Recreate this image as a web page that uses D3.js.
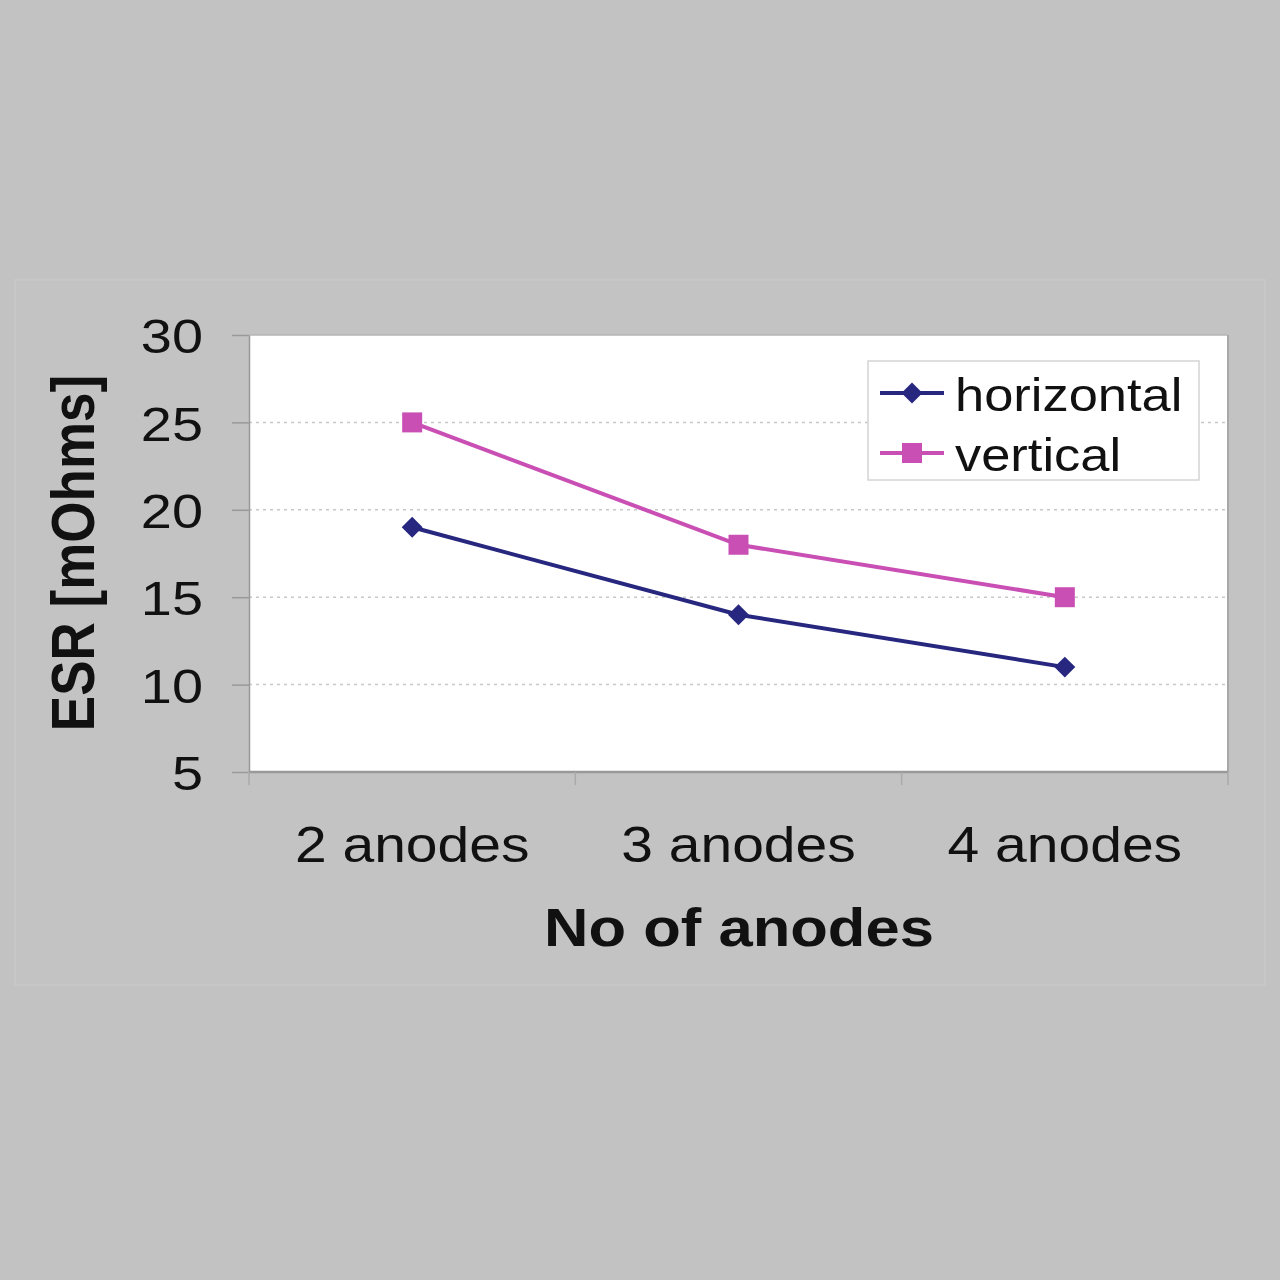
<!DOCTYPE html>
<html>
<head>
<meta charset="utf-8">
<script src="https://cdn.jsdelivr.net/npm/d3@7"></script>
<style>
  body { margin: 0; background: #c3c2c3; }
  svg text { font-family: "Liberation Sans", Arial, sans-serif; fill: #111; }
</style>
</head>
<body>
<div id="chart"></div>
<script>
// data
const categories = ["2 anodes", "3 anodes", "4 anodes"];
const horizontal = [19, 14, 11];
const vertical = [25, 18, 15];
const yTicks = [5, 10, 15, 20, 25, 30];
const seriesNames = ["horizontal", "vertical"];

const W = 1280, H = 1280;
const plot = { left: 249, right: 1228, top: 335, bottom: 772 };
const sx = 1.14; // the source picture is stretched sideways a bit

const svg = d3.select("#chart").append("svg")
  .attr("width", W).attr("height", H);

// background panel
svg.append("rect").attr("width", W).attr("height", H).attr("fill", "#c3c2c3");
svg.append("rect")
  .attr("x", 15).attr("y", 280).attr("width", 1250).attr("height", 705)
  .attr("fill", "#c4c3c4").attr("stroke", "#c8c7c8").attr("stroke-width", 2);

const x = d3.scaleBand().domain(categories).range([plot.left, plot.right]).padding(0);
const y = d3.scaleLinear().domain([5, 30]).range([plot.bottom, plot.top]);

// plot area
svg.append("rect")
  .attr("x", plot.left).attr("y", plot.top)
  .attr("width", plot.right - plot.left).attr("height", plot.bottom - plot.top)
  .attr("fill", "#fff");

// gridlines
svg.append("g").selectAll("line")
  .data(yTicks.filter(d => d > 5 && d < 30))
  .enter().append("line")
  .attr("x1", plot.left).attr("x2", plot.right)
  .attr("y1", d => y(d)).attr("y2", d => y(d))
  .attr("stroke", "#c8c8c8").attr("stroke-width", 1.5)
  .attr("stroke-dasharray", "3,4");

// border
svg.append("line").attr("x1", plot.left).attr("x2", plot.right)
  .attr("y1", plot.top).attr("y2", plot.top).attr("stroke", "#b4b4b4").attr("stroke-width", 1.5);
svg.append("line").attr("x1", plot.right).attr("x2", plot.right)
  .attr("y1", plot.top).attr("y2", plot.bottom).attr("stroke", "#a8a8a8").attr("stroke-width", 2);

// y axis
const yAxis = d3.axisLeft(y).tickValues(yTicks).tickSize(17).tickSizeOuter(0);
const gy = svg.append("g").attr("transform", "translate(" + plot.left + ",0)").call(yAxis);
gy.select(".domain").attr("stroke", "#999").attr("stroke-width", 1.5);
gy.selectAll(".tick line").attr("stroke", "#999").attr("stroke-width", 1.5);
gy.selectAll(".tick text")
  .attr("x", -46 / sx).attr("dy", "0.36em")
  .attr("transform", "scale(" + sx + ",1)")
  .style("font-size", "49px").attr("fill", "#111");

// x axis
const gx = svg.append("g").attr("transform", "translate(0," + plot.bottom + ")");
gx.append("line").attr("x1", plot.left).attr("x2", plot.right)
  .attr("stroke", "#999").attr("stroke-width", 2.5);
gx.selectAll(".xt")
  .data(categories.map(c => x(c)).concat([plot.right]))
  .enter().append("line")
  .attr("class", "xt")
  .attr("x1", d => d).attr("x2", d => d)
  .attr("y1", 0).attr("y2", 13)
  .attr("stroke", "#aaa").attr("stroke-width", 1.5);
gx.selectAll(".xl")
  .data(categories)
  .enter().append("text")
  .attr("class", "xl")
  .attr("transform", d => "translate(" + (x(d) + x.bandwidth() / 2) + ",90) scale(" + sx + ",1)")
  .attr("text-anchor", "middle")
  .style("font-size", "50px")
  .text(d => d);

// axis titles
svg.append("text")
  .attr("transform", "translate(739,946) scale(" + sx + ",1)")
  .attr("text-anchor", "middle")
  .style("font-size", "54px").style("font-weight", "bold")
  .text("No of anodes");
svg.append("text")
  .attr("transform", "translate(94,553) rotate(-90) scale(1," + sx + ")")
  .attr("text-anchor", "middle")
  .style("font-size", "53px").style("font-weight", "bold")
  .text("ESR [mOhms]");

// series
const colors = { horizontal: "#27277f", vertical: "#c94fb4" };
const series = [
  { name: "horizontal", values: horizontal },
  { name: "vertical", values: vertical }
];
const line = d3.line()
  .x((d, i) => x(categories[i]) + x.bandwidth() / 2)
  .y(d => y(d));
const diamond = d3.symbol().type(d3.symbolDiamond2).size(280);
const square = d3.symbol().type(d3.symbolSquare).size(400);

series.forEach(s => {
  svg.append("path").datum(s.values)
    .attr("d", line).attr("fill", "none")
    .attr("stroke", colors[s.name]).attr("stroke-width", 4);
  svg.selectAll(".m-" + s.name)
    .data(s.values).enter().append("path")
    .attr("class", "m-" + s.name)
    .attr("transform", (d, i) => "translate(" + (x(categories[i]) + x.bandwidth() / 2) + "," + y(d) + ")")
    .attr("d", s.name === "horizontal" ? diamond : square)
    .attr("fill", colors[s.name]);
});

// legend
const legend = svg.append("g");
legend.append("rect")
  .attr("x", 868).attr("y", 361).attr("width", 331).attr("height", 119)
  .attr("fill", "#fff").attr("stroke", "#d4d4d4").attr("stroke-width", 1.5);
seriesNames.forEach((n, i) => {
  const ly = 393 + i * 60;
  legend.append("line").attr("x1", 880).attr("x2", 944)
    .attr("y1", ly).attr("y2", ly)
    .attr("stroke", colors[n]).attr("stroke-width", 4);
  legend.append("path")
    .attr("transform", "translate(912," + ly + ")")
    .attr("d", n === "horizontal" ? diamond : square)
    .attr("fill", colors[n]);
  legend.append("text")
    .attr("transform", "translate(955," + (ly + 18) + ") scale(" + sx + ",1)")
    .style("font-size", "46px")
    .text(n);
});
</script>
</body>
</html>
